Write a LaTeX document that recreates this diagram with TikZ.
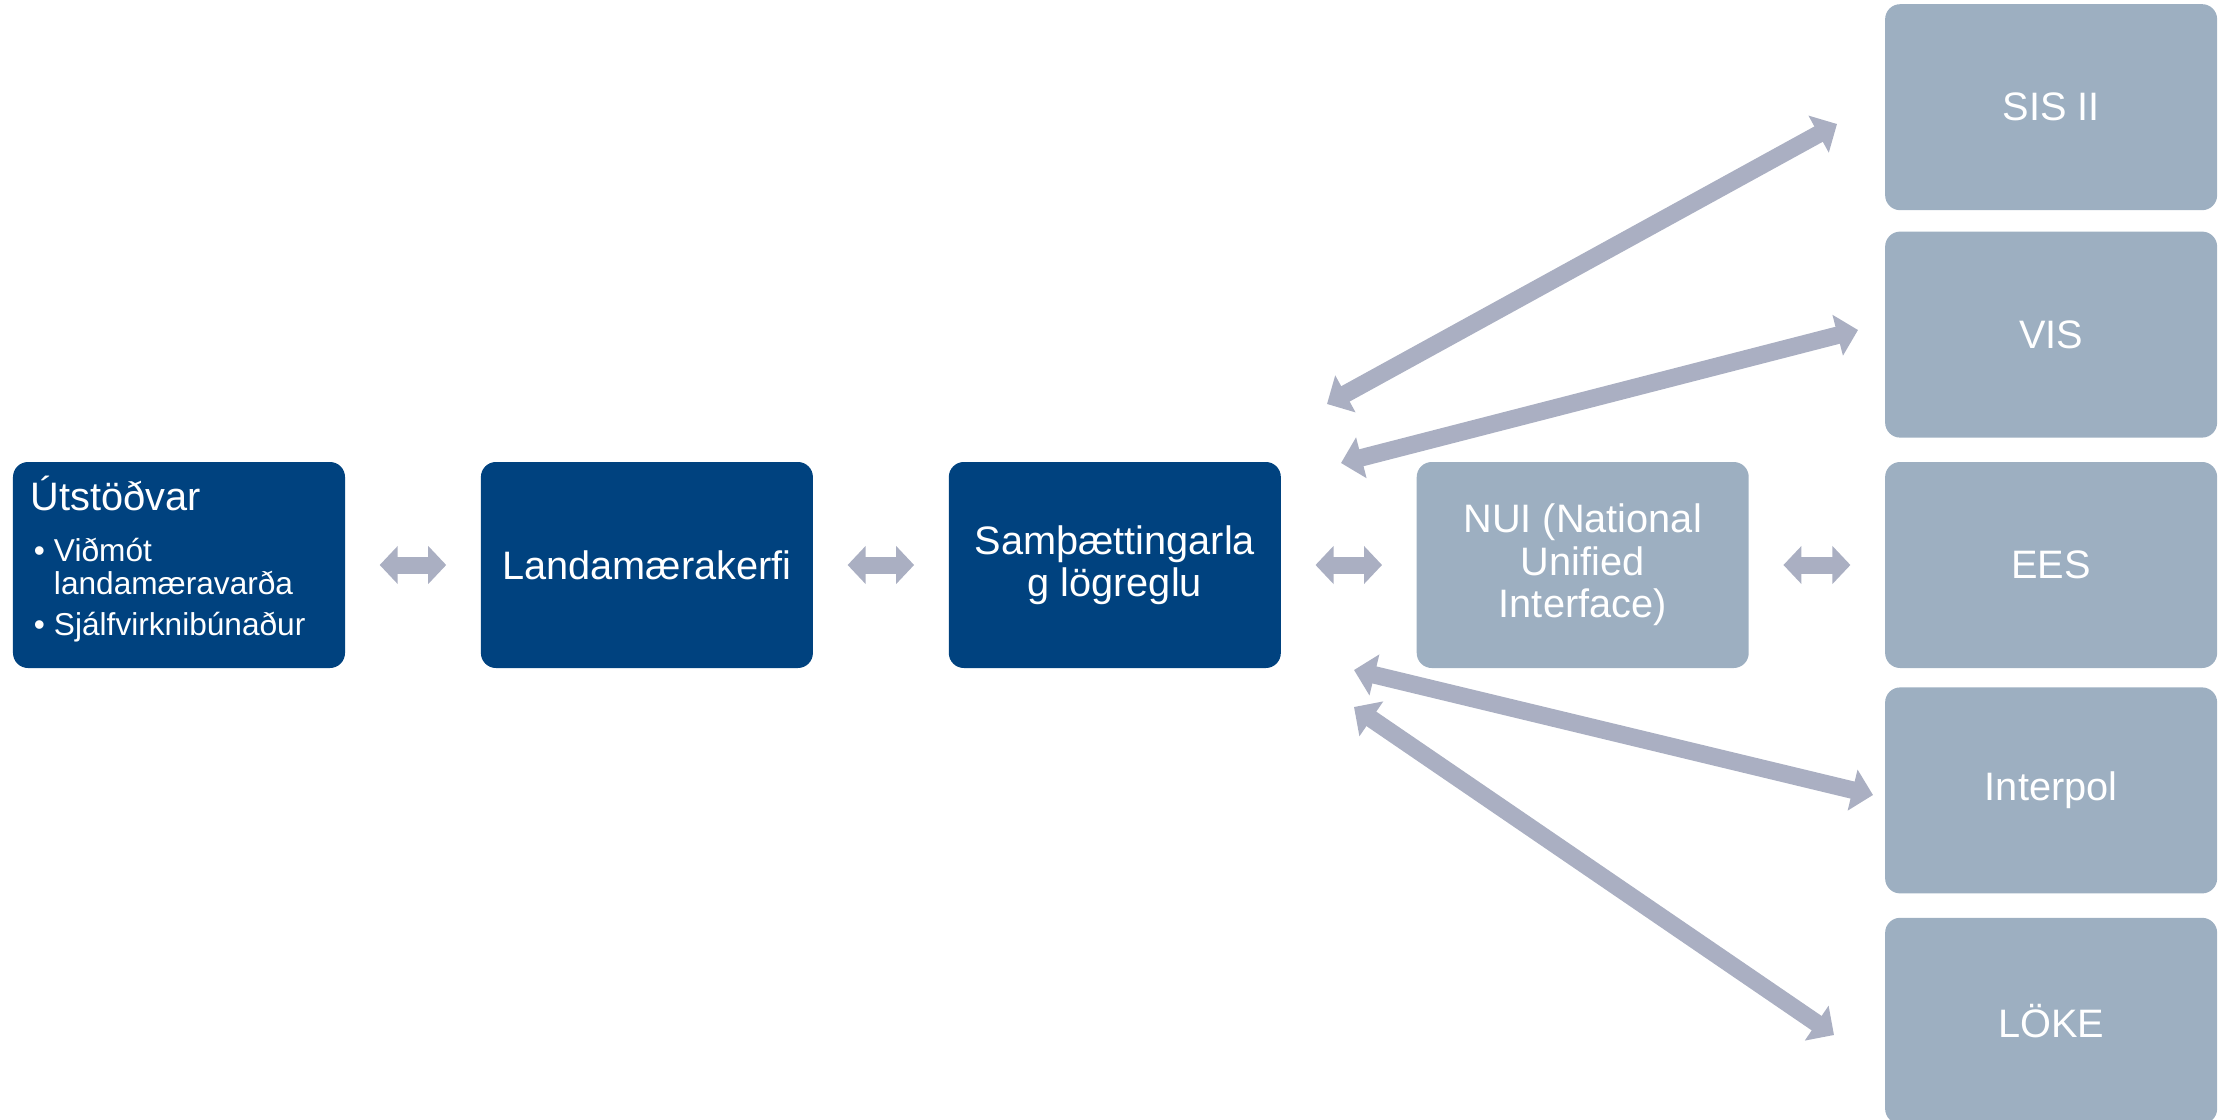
\documentclass[tikz,border=0pt]{standalone}
\usepackage{fontspec}
\setmainfont{Liberation Sans}
\usepackage{xcolor}
\usetikzlibrary{arrows.meta,positioning}

\definecolor{darkblue}{HTML}{00427F}
\definecolor{greyblue}{HTML}{9DAFC1}
\definecolor{arrowgrey}{HTML}{AAAFC2}

\tikzset{
	box/.style={rounded corners=0.15cm, minimum width=3.32cm, minimum height=2.06cm, text=white, align=center, font=\fontsize{11.3}{12.1}\selectfont},
	darkbox/.style={box, fill=darkblue},
	lightbox/.style={box, fill=greyblue},
	link/.style={draw=arrowgrey, line width=0.175cm, {Triangle[length=0.21cm,width=0.41cm]}-{Triangle[length=0.21cm,width=0.41cm]}},
	shortlink/.style={draw=arrowgrey, line width=0.17cm, {Triangle[length=0.18cm,width=0.37cm]}-{Triangle[length=0.18cm,width=0.37cm]}, shorten <=0.34cm, shorten >=0.34cm}
}

\begin{document}
\begin{tikzpicture}
	\useasboundingbox (0,0) rectangle (22.31,-11.20);
	
	\node[darkbox, text width=2.96cm, inner xsep=0.18cm, align=left, font=\fontsize{9}{9.4}\selectfont] (u) at (1.79,-5.65) {{\fontsize{11.3}{9.4}\selectfont Útstöðvar}\\[5pt]
		\makebox[0.23cm][l]{\hspace{0.03cm}•}Viðmót\\
		\hspace*{0.23cm}landamæravarða\\[2.2pt]
		\makebox[0.23cm][l]{\hspace{0.03cm}•}Sjálfvirknibúnaður\par\vspace*{0.12cm}};
	\node[darkbox, right=1.345cm of u] (l) {Landamærakerfi};
	\node[darkbox, right=1.345cm of l] (s) {Samþættingarla\\g lögreglu};
	\node[lightbox, right=1.345cm of s] (n) {NUI (National\\Unified\\Interface)};
	
	\node[lightbox, right=1.35cm of n] (ees) {EES};
	\node[lightbox, above=0.23cm of ees] (vis) {VIS};
	\node[lightbox, above=0.20cm of vis] (sis) {SIS II};
	\node[lightbox, below=0.18cm of ees] (int) {Interpol};
	\node[lightbox, below=0.23cm of int] (lok) {LÖKE};
	
	\draw[shortlink] (u) -- (l);
	\draw[shortlink] (l) -- (s);
	\draw[shortlink] (s) -- (n);
	\draw[shortlink] (n) -- (ees);
	
	\coordinate (sisA) at (13.27,-4.04);
	\coordinate (sisB) at (18.37,-1.24);
	\coordinate (visA) at (13.41,-4.63);
	\coordinate (visB) at (18.58,-3.30);
	\coordinate (intA) at (13.54,-6.70);
	\coordinate (intB) at (18.73,-7.95);
	\coordinate (lokA) at (13.54,-7.07);
	\coordinate (lokB) at (18.34,-10.35);
	
	\draw[link] (sisA) -- (sisB);
	\draw[link] (visA) -- (visB);
	\draw[link] (intA) -- (intB);
	\draw[link] (lokA) -- (lokB);
\end{tikzpicture}
\end{document}
